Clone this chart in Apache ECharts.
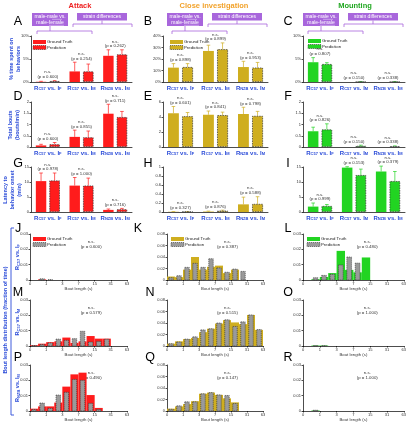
<!DOCTYPE html>
<html><head><meta charset="utf-8">
<script src="https://cdn.jsdelivr.net/npm/echarts@6.0.0/dist/echarts.min.js"></script>
<style>html,body{margin:0;padding:0;background:#fff}#c{width:409px;height:423px}</style>
</head><body><div id="c"></div>
<script>
// ---------- data ----------
const pairLabels = [['C57','F'],['C57','M'],['NZB','M']];
const histTickLabels = ['0','1','3','7','15','31','63'];
const columnTitles = ['Attack','Close investigation','Mounting'];

// A  % time spent (attack)
const attackTimeGT = [0.05, 2.3, 5.7];
const attackTimeGTErr = [0.1, 2.0, 1.3];
const attackTimePred = [0.2, 2.3, 6.0];
const attackTimePredErr = [0.1, 1.6, 1.0];
const attackTimeP = ['0.600','0.254','0.262'];
// B  % time spent (close investigation)
const investTimeGT = [12.5, 27, 13];
const investTimeGTErr = [3.5, 5, 5];
const investTimePred = [13, 28.5, 12.5];
const investTimePredErr = [3, 5.5, 4.5];
const investTimeP = ['0.898','0.899','0.953'];
// C  % time spent (mounting)
const mountTimeGT = [4.3, 0, 0];
const mountTimeGTErr = [1.0, 0, 0];
const mountTimePred = [3.9, 0.05, 0.05];
const mountTimePredErr = [0.3, 0.05, 0.05];
const mountTimeP = ['0.807','0.150','0.338'];
// D  total bouts (attack)
const attackBoutsGT = [0.07, 0.45, 1.48];
const attackBoutsGTErr = [0.05, 0.3, 0.42];
const attackBoutsPred = [0.12, 0.43, 1.33];
const attackBoutsPredErr = [0.08, 0.28, 0.25];
const attackBoutsP = ['0.600','0.855','0.711'];
// E  total bouts (close investigation)
const investBoutsGT = [4.5, 4.3, 4.4];
const investBoutsGTErr = [0.9, 0.5, 0.9];
const investBoutsPred = [4.1, 4.25, 4.15];
const investBoutsPredErr = [0.5, 0.4, 0.6];
const investBoutsP = ['0.601','0.841','0.798'];
// F  total bouts (mounting)
const mountBoutsGT = [0.7, 0, 0];
const mountBoutsGTErr = [0.18, 0, 0];
const mountBoutsPred = [0.78, 0.05, 0.03];
const mountBoutsPredErr = [0.25, 0.03, 0.02];
const mountBoutsP = ['0.826','0.150','0.338'];
// G  latency (attack)
const attackLatGT = [10.3, 8.8, 0.7];
const attackLatGTErr = [2.7, 2.7, 0.3];
const attackLatPred = [10.5, 8.8, 0.9];
const attackLatPredErr = [2.5, 2.5, 0.3];
const attackLatP = ['0.978','1.000','0.716'];
// H  latency (close investigation)
const investLatGT = [0.005, 0.01, 0.17];
const investLatGTErr = [0.005, 0.01, 0.16];
const investLatPred = [0.005, 0.03, 0.18];
const investLatPredErr = [0.005, 0.01, 0.16];
const investLatP = ['0.327','0.876','0.588'];
// I  latency (mounting)
const mountLatGT = [1.8, 14.8, 13.5];
const mountLatGTErr = [1.2, 0.3, 1.8];
const mountLatPred = [2.0, 12.3, 10.3];
const mountLatPredErr = [0.5, 2.0, 3.2];
const mountLatP = ['0.999','0.153','0.379'];

// bout length histograms, 12 bins of half a log2 unit
const attackHistJ_GT   = [0, 0.0004, 0, 0, 0, 0, 0, 0, 0, 0, 0, 0];
const attackHistJ_Pred = [0, 0.0008, 0.0002, 0, 0, 0, 0, 0, 0, 0, 0, 0];
const attackHistJ_P = '0.600';
const investHistK_GT   = [0.006, 0.005, 0.018, 0.040, 0.018, 0.023, 0.025, 0.012, 0.018, 0, 0, 0];
const investHistK_Pred = [0.004, 0.0075, 0.022, 0.029, 0.022, 0.037, 0.021, 0.0135, 0.019, 0.015, 0, 0];
const investHistK_P = '0.387';
const mountHistL_GT   = [0, 0.0005, 0.002, 0.0045, 0.019, 0.0066, 0.005, 0.0147, 0, 0, 0, 0];
const mountHistL_Pred = [0, 0.0015, 0.003, 0.0037, 0.0098, 0.015, 0.011, 0, 0, 0, 0, 0];
const mountHistL_P = '0.480';
const attackHistM_GT   = [0.0005, 0.0015, 0.0025, 0.003, 0.0055, 0.002, 0.003, 0.0065, 0.0048, 0.0048, 0, 0];
const attackHistM_Pred = [0.0003, 0.001, 0.002, 0.0045, 0.0037, 0.0048, 0.0096, 0.0026, 0.003, 0.0044, 0, 0];
const attackHistM_P = '0.579';
const investHistN_GT   = [0.004, 0.008, 0.012, 0.014, 0.024, 0.030, 0.039, 0.045, 0.041, 0.038, 0.054, 0.028];
const investHistN_Pred = [0.004, 0.007, 0.012, 0.016, 0.028, 0.030, 0.040, 0.0456, 0.034, 0.042, 0.054, 0.0286];
const investHistN_P = '0.515';
const mountHistO_GT   = [0, 0.0003, 0.0003, 0, 0, 0, 0, 0, 0, 0, 0, 0];
const mountHistO_Pred = [0, 0.0002, 0.0002, 0, 0, 0, 0, 0, 0, 0, 0, 0];
const mountHistO_P = '1.000';
const attackHistP_GT   = [0.0015, 0.003, 0.003, 0.0055, 0.0159, 0.0239, 0.025, 0.0104, 0.002, 0, 0, 0];
const attackHistP_Pred = [0.001, 0.0052, 0.0017, 0.0104, 0.0122, 0.0206, 0.020, 0.005, 0.001, 0, 0, 0];
const attackHistP_P = '0.490';
const investHistQ_GT   = [0.004, 0.008, 0.012, 0.017, 0.030, 0.032, 0.028, 0.022, 0.015, 0, 0, 0];
const investHistQ_Pred = [0.003, 0.009, 0.016, 0.016, 0.030, 0.032, 0.028, 0.027, 0.013, 0, 0, 0];
const investHistQ_P = '0.147';
const mountHistR_GT   = [0, 0.0003, 0, 0, 0, 0, 0, 0, 0, 0, 0, 0];
const mountHistR_Pred = [0, 0.0005, 0, 0, 0, 0, 0, 0, 0, 0, 0, 0];
const mountHistR_P = '1.000';

// ---------- styling / layout ----------
const FONT = 'Liberation Sans, Arial, sans-serif';
const BLUE = '#2a4bd8';
const PURPLE = '#a866dc';
const GREY = '#9a9a9a';
const colStyle = [
  {color:'#ff1c1c', title:'#ee2222', left:31, width:101, hLeft:30, hWidth:97, titleX:80},
  {color:'#cfae1f', title:'#f2a22a', left:163, width:105, hLeft:167, hWidth:96, titleX:214},
  {color:'#22d422', title:'#22a822', left:303, width:102, hLeft:303, hWidth:102, titleX:355}
];
const barRows = [{top:36,height:46},{top:102,height:45},{top:167,height:45}];
const histRows = [{top:234,height:46},{top:300,height:46},{top:365,height:46}];

const grids = [], xAxes = [], yAxes = [], series = [], graphics = [];
const axisLineStyle = {color:'#000', width:0.7};
const tickLabel = {fontSize:4, color:'#333', fontFamily:FONT, margin:2};

function pairFormatter(v){
  const p = pairLabels[+v];
  return '{r|R}{s|' + p[0] + '}{r| vs. I}{s|' + p[1] + '}';
}
const pairRich = {
  r:{fontSize:6, fontWeight:'bold', color:BLUE, fontFamily:FONT, verticalAlign:'bottom', lineHeight:7},
  s:{fontSize:4, fontWeight:'bold', color:BLUE, fontFamily:FONT, verticalAlign:'bottom', lineHeight:6}
};

function addBarPanel(ci, ri, yMax, yInt, yFmt, gt, gtErr, pred, predErr, pv){
  const cs = colStyle[ci], rs = barRows[ri];
  const gi = grids.length;
  grids.push({left:cs.left, top:rs.top, width:cs.width, height:rs.height});
  xAxes.push({gridIndex:gi, type:'category', data:[0,1,2],
    axisLine:{lineStyle:axisLineStyle}, axisTick:{show:false},
    axisLabel:{formatter:pairFormatter, rich:pairRich, margin:2, interval:0}});
  yAxes.push({gridIndex:gi, type:'value', min:0, max:yMax, interval:yInt,
    axisLine:{show:true, lineStyle:axisLineStyle}, axisTick:{show:true, length:1.5, lineStyle:axisLineStyle},
    splitLine:{show:false}, axisLabel:Object.assign({formatter:yFmt}, tickLabel)});
  series.push({type:'bar', name:'Ground Truth', xAxisIndex:gi, yAxisIndex:gi, data:gt,
    barWidth:'31%', barGap:'30%', itemStyle:{color:cs.color}, silent:true, animation:false});
  series.push({type:'bar', name:'Prediction', xAxisIndex:gi, yAxisIndex:gi, data:pred,
    barWidth:'31%', barGap:'30%', itemStyle:{color:cs.color, borderColor:'#333', borderWidth:0.7, borderType:[1.5,1]},
    silent:true, animation:false});
  series.push({type:'custom', xAxisIndex:gi, yAxisIndex:gi, silent:true, animation:false,
    data: gt.map((v,i)=>[i, v, gtErr[i], pred[i], predErr[i]]),
    encode:{x:0, y:1},
    renderItem:function(params, api){
      const i = api.value(0);
      const c = api.coord([i, 0]);
      const band = api.size([1, 0])[0];
      const bw = band*0.31, off = bw/2 + bw*0.15;
      const kids = [];
      let topY = c[1];
      [[api.value(1), api.value(2), -1],[api.value(3), api.value(4), 1]].forEach(function(a){
        const x = c[0] + a[2]*off;
        const y0 = api.coord([i, a[0]])[1], y1 = api.coord([i, a[0]+a[1]])[1];
        topY = Math.min(topY, y1);
        if (a[1] > 0) {
          kids.push({type:'line', shape:{x1:x,y1:y0,x2:x,y2:y1}, style:{stroke:cs.color, lineWidth:0.7}});
          kids.push({type:'line', shape:{x1:x-1.8,y1:y1,x2:x+1.8,y2:y1}, style:{stroke:cs.color, lineWidth:0.7}});
        }
      });
      kids.push({type:'text', x:c[0], y:topY-1.5, style:{text:'n.s.\n(p = ' + pv[i] + ')', fill:'#333',
        fontSize:4.3, fontFamily:FONT, align:'center', verticalAlign:'bottom', lineHeight:4.6}});
      return {type:'group', children:kids};
    }});
}

function addHistPanel(ci, ri, yMax, yInt, gt, pred, pv){
  const cs = colStyle[ci], rs = histRows[ri];
  const gi = grids.length;
  grids.push({left:cs.hLeft, top:rs.top, width:cs.hWidth, height:rs.height});
  xAxes.push({gridIndex:gi, type:'value', min:0, max:6, interval:1,
    axisLine:{lineStyle:axisLineStyle}, axisTick:{show:true, length:1.5, lineStyle:axisLineStyle}, splitLine:{show:false},
    axisLabel:Object.assign({formatter:function(v){return histTickLabels[Math.round(v)];}}, tickLabel),
    name:'Bout length (s)', nameLocation:'middle', nameGap:7,
    nameTextStyle:{fontSize:4.3, color:'#333', fontFamily:FONT}});
  yAxes.push({gridIndex:gi, type:'value', min:0, max:yMax, interval:yInt,
    axisLine:{show:true, lineStyle:axisLineStyle}, axisTick:{show:true, length:1.5, lineStyle:axisLineStyle},
    splitLine:{show:false}, axisLabel:Object.assign({formatter:function(v){return v===0?'0':String(+v.toFixed(3));}}, tickLabel)});
  function mk(vals, isPred){
    return {type:'custom', xAxisIndex:gi, yAxisIndex:gi, silent:true, animation:false,
      data: vals.map((v,i)=>[i*0.5, (i+1)*0.5, v]),
      encode:{x:[0,1], y:2},
      renderItem:function(params, api){
        const v = api.value(2);
        if (!(v > 0)) return null;
        const p0 = api.coord([api.value(0), v]);
        const p1 = api.coord([api.value(1), 0]);
        let x = p0[0], w = p1[0]-p0[0];
        if (isPred) { x = x + w*0.22; w = w*0.56; }
        return {type:'rect', shape:{x:x, y:p0[1], width:w, height:p1[1]-p0[1]},
          style: isPred ? {fill:GREY, stroke:'#333', lineWidth:0.6, lineDash:[1.2,0.8]} : {fill:cs.color}};
      }};
  }
  series.push(mk(gt, false));
  series.push(mk(pred, true));
  // significance annotation
  graphics.push({type:'text', x:cs.hLeft + cs.hWidth*0.63, y:rs.top + 5.5,
    style:{text:'n.s.\n(p = ' + pv + ')', fill:'#333', fontSize:4.3, fontFamily:FONT, align:'center', verticalAlign:'top', lineHeight:4.6}});
}

const pct = v => v + '%';
const plain = v => String(+v.toFixed(2));
addBarPanel(0,0,10,5,pct, attackTimeGT, attackTimeGTErr, attackTimePred, attackTimePredErr, attackTimeP);
addBarPanel(1,0,40,10,pct, investTimeGT, investTimeGTErr, investTimePred, investTimePredErr, investTimeP);
addBarPanel(2,0,10,5,pct, mountTimeGT, mountTimeGTErr, mountTimePred, mountTimePredErr, mountTimeP);
addBarPanel(0,1,2,0.5,plain, attackBoutsGT, attackBoutsGTErr, attackBoutsPred, attackBoutsPredErr, attackBoutsP);
addBarPanel(1,1,6,2,plain, investBoutsGT, investBoutsGTErr, investBoutsPred, investBoutsPredErr, investBoutsP);
addBarPanel(2,1,2,0.5,plain, mountBoutsGT, mountBoutsGTErr, mountBoutsPred, mountBoutsPredErr, mountBoutsP);
addBarPanel(0,2,15,5,plain, attackLatGT, attackLatGTErr, attackLatPred, attackLatPredErr, attackLatP);
addBarPanel(1,2,1,0.2,plain, investLatGT, investLatGTErr, investLatPred, investLatPredErr, investLatP);
addBarPanel(2,2,15,5,plain, mountLatGT, mountLatGTErr, mountLatPred, mountLatPredErr, mountLatP);
addHistPanel(0,0,0.03,0.01, attackHistJ_GT, attackHistJ_Pred, attackHistJ_P);
addHistPanel(1,0,0.08,0.02, investHistK_GT, investHistK_Pred, investHistK_P);
addHistPanel(2,0,0.03,0.01, mountHistL_GT, mountHistL_Pred, mountHistL_P);
addHistPanel(0,1,0.03,0.01, attackHistM_GT, attackHistM_Pred, attackHistM_P);
addHistPanel(1,1,0.08,0.02, investHistN_GT, investHistN_Pred, investHistN_P);
addHistPanel(2,1,0.03,0.01, mountHistO_GT, mountHistO_Pred, mountHistO_P);
addHistPanel(0,2,0.03,0.01, attackHistP_GT, attackHistP_Pred, attackHistP_P);
addHistPanel(1,2,0.08,0.02, investHistQ_GT, investHistQ_Pred, investHistQ_P);
addHistPanel(2,2,0.03,0.01, mountHistR_GT, mountHistR_Pred, mountHistR_P);

// ---------- annotations ----------
function txt(x, y, text, o){
  return Object.assign({type:'text', x:x, y:y, silent:true,
    style:Object.assign({text:text, fontFamily:FONT, fill:'#000', fontSize:5, align:'center', verticalAlign:'middle'}, o && o.style || {})},
    o && o.extra || {});
}
// column titles
colStyle.forEach(function(cs, i){
  graphics.push(txt(cs.titleX, 5.5, columnTitles[i], {style:{fill:cs.title, fontSize:7.5, fontWeight:'bold'}}));
});
// panel letters
const letters = [['A','B','C'],['D','E','F'],['G','H','I'],['J','K','L'],['M','N','O'],['P','Q','R']];
const letterY = [22, 97, 164, 229, 293, 358];
const letterX = [[18,148,288],[18,148,288],[18,148,288],[18,138,288],[18,150,288],[18,150,288]];
letters.forEach(function(row, r){
  row.forEach(function(L, c){
    graphics.push(txt(letterX[r][c], letterY[r], L, {style:{fontSize:12.5}}));
  });
});
// purple boxes and brackets
colStyle.forEach(function(cs, i){
  const x0 = [32, 167, 303][i];
  graphics.push({type:'rect', shape:{x:x0, y:13, width:36, height:13}, style:{fill:PURPLE}, silent:true});
  graphics.push(txt(x0+18, 16.5, 'male-male vs.', {style:{fill:'#fff', fontSize:5}}));
  graphics.push(txt(x0+18, 22.5, 'male-female', {style:{fill:'#fff', fontSize:5}}));
  graphics.push({type:'line', shape:{x1:x0+20, y1:19.3, x2:x0+30, y2:19.3}, style:{stroke:'#fff', lineWidth:0.4}, silent:true});
  graphics.push({type:'line', shape:{x1:x0+17, y1:25.3, x2:x0+32, y2:25.3}, style:{stroke:'#fff', lineWidth:0.4}, silent:true});
  graphics.push({type:'rect', shape:{x:x0+45, y:13, width:50, height:7.5}, style:{fill:PURPLE}, silent:true});
  graphics.push(txt(x0+70, 16.8, 'strain differences', {style:{fill:'#fff', fontSize:5}}));
  // mm vs mf bracket
  graphics.push({type:'polyline', shape:{points:[[x0+5,34],[x0+5,31],[x0+60,31],[x0+60,34]]}, style:{stroke:PURPLE, lineWidth:0.8, fill:null}, silent:true});
  graphics.push({type:'line', shape:{x1:x0+18, y1:26, x2:x0+18, y2:31}, style:{stroke:PURPLE, lineWidth:0.8}, silent:true});
  // strain bracket
  graphics.push({type:'polyline', shape:{points:[[x0+41,27],[x0+41,24],[x0+100,24],[x0+100,27]]}, style:{stroke:PURPLE, lineWidth:0.8, fill:null}, silent:true});
  graphics.push({type:'line', shape:{x1:x0+70, y1:20.5, x2:x0+70, y2:24}, style:{stroke:PURPLE, lineWidth:0.8}, silent:true});
});
// legends
function legend(x, y, color, predFill){
  graphics.push({type:'rect', shape:{x:x, y:y, width:13, height:4}, style:{fill:color}, silent:true});
  graphics.push({type:'rect', shape:{x:x, y:y+5.5, width:13, height:4}, style:{fill:predFill, stroke:'#333', lineWidth:0.6, lineDash:[1.2,0.8]}, silent:true});
  graphics.push(txt(x+14, y+2, 'Ground Truth', {style:{fontSize:4.3, align:'left', fill:'#222'}}));
  graphics.push(txt(x+14, y+7.5, 'Prediction', {style:{fontSize:4.3, align:'left', fill:'#222'}}));
}
legend(33, 40, colStyle[0].color, colStyle[0].color);
legend(170, 40, colStyle[1].color, colStyle[1].color);
legend(308, 39, colStyle[2].color, colStyle[2].color);
legend(33, 237, colStyle[0].color, GREY);
legend(171, 237, colStyle[1].color, GREY);
legend(307, 237, colStyle[2].color, GREY);

// blue y-axis labels (rotated)
function rot(x, y, text, size, rich){
  const o = {type:'text', x:x, y:y, rotation:Math.PI/2, silent:true,
    style:{text:text, fontFamily:FONT, fill:BLUE, fontSize:size, fontWeight:'bold', align:'center', verticalAlign:'middle', lineHeight:size+1.5}};
  if (rich) o.style.rich = rich;
  graphics.push(o);
}
rot(15, 59, '% time spent on\nbehaviors', 5.5);
rot(14, 125, 'Total bouts\n(bouts/min)', 5.5);
rot(12, 190, 'Latency to\nbehavior onset\n(min)', 5.5);
rot(5, 320, 'Bout length distribution (fraction of time)', 5.5);
graphics.push({type:'polyline', shape:{points:[[14,228],[11,228],[11,415],[14,415]]}, style:{stroke:BLUE, lineWidth:0.9, fill:null}, silent:true});
const subRich = {
  r:{fontSize:5.5, fontWeight:'bold', fill:BLUE, fontFamily:FONT},
  s:{fontSize:4, fontWeight:'bold', fill:BLUE, fontFamily:FONT, verticalAlign:'bottom'}
};
[257, 322, 388].forEach(function(y, i){
  const p = pairLabels[i];
  rot(17.5, y, '{r|R}{s|' + p[0] + '}{r| vs. I}{s|' + p[1] + '}', 5.5, subRich);
});

const chart = echarts.init(document.getElementById('c'), null, {renderer:'canvas'});
chart.setOption({
  animation:false,
  textStyle:{fontFamily:FONT},
  grid:grids, xAxis:xAxes, yAxis:yAxes, series:series, graphic:{elements:graphics}
});
</script></body></html>
